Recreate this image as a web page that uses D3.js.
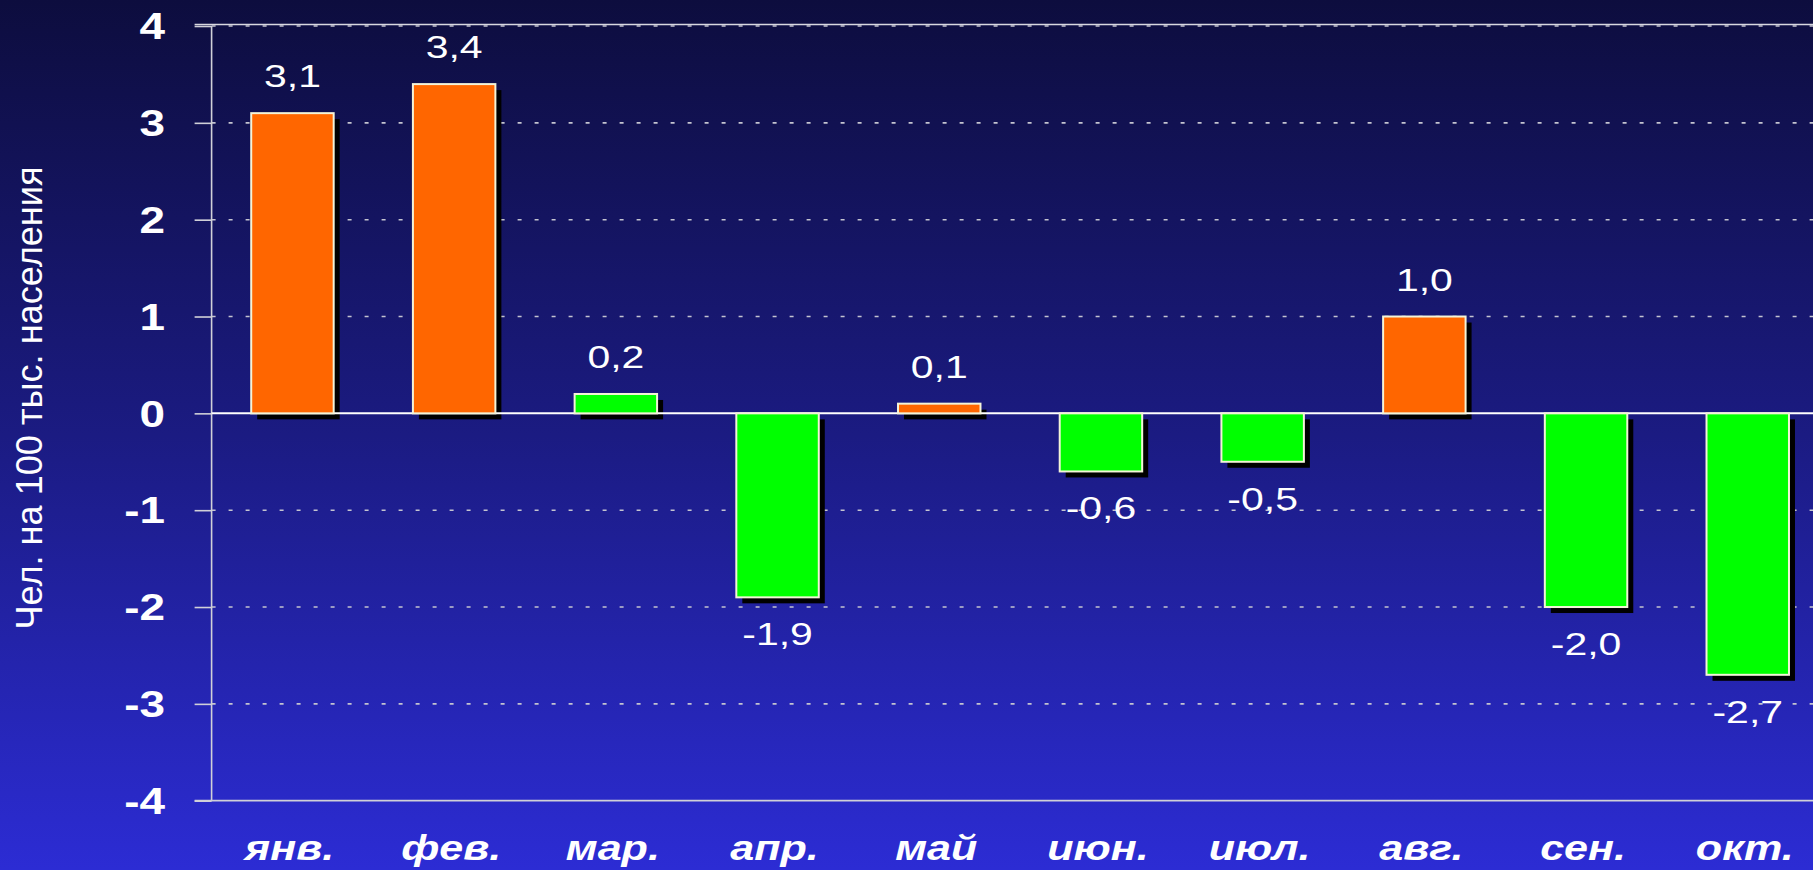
<!DOCTYPE html>
<html>
<head>
<meta charset="utf-8">
<script src="https://cdn.jsdelivr.net/npm/d3@7"></script>
<style>
  html, body { margin: 0; padding: 0; overflow: hidden; }
  svg { display: block; }
</style>
</head>
<body>
<svg id="chart" width="1813" height="870"></svg>
<script>
// ---- data ----
const months = ["янв.", "фев.", "мар.", "апр.", "май", "июн.", "июл.", "авг.", "сен.", "окт."];
const values = [3.1, 3.4, 0.2, -1.9, 0.1, -0.6, -0.5, 1.0, -2.0, -2.7];
const valueLabels = ["3,1", "3,4", "0,2", "-1,9", "0,1", "-0,6", "-0,5", "1,0", "-2,0", "-2,7"];
const barKinds = ["o", "o", "g", "g", "o", "g", "g", "o", "g", "g"];
const yTicks = [4, 3, 2, 1, 0, -1, -2, -3, -4];
const yTitle = "Чел. на 100 тыс. населения";

// ---- layout ----
const W = 1813, H = 870;
const axisX = 211.6, plotRight = 1828.6;
const yTop = 26, yBottom = 800.7;
const stretch = 1.28;
const palette = { o: "#ff6600", g: "#00ff00" };

const svg = d3.select("#chart");
const defs = svg.append("defs");
const grad = defs.append("linearGradient").attr("id", "bg").attr("x1", 0).attr("y1", 0).attr("x2", 0).attr("y2", 1);
grad.append("stop").attr("offset", "0%").attr("stop-color", "#0d0d3e");
grad.append("stop").attr("offset", "50%").attr("stop-color", "#1b1b82");
grad.append("stop").attr("offset", "100%").attr("stop-color", "#2c2cd4");
svg.append("rect").attr("width", W).attr("height", H).attr("fill", "url(#bg)");

const x = d3.scaleBand().domain(months).range([axisX, plotRight]).paddingInner(0.49).paddingOuter(0.245);
const y = d3.scaleLinear().domain([-4, 4]).range([yBottom, yTop]);

// gridlines (dashed)
svg.append("g").selectAll("line").data(yTicks.filter(t => t !== 0 && t !== -4)).join("line")
  .attr("x1", axisX).attr("x2", W).attr("y1", d => y(d)).attr("y2", d => y(d))
  .attr("stroke", "#c4c4d0").attr("stroke-width", 1.6).attr("stroke-dasharray", "4,13");
// solid top border
svg.append("line").attr("x1", axisX - 17).attr("x2", W).attr("y1", y(4) - 1.5).attr("y2", y(4) - 1.5)
  .attr("stroke", "#d8d8e0").attr("stroke-width", 1.5);

// axis
const yAxis = d3.axisLeft(y).tickValues(yTicks).tickSize(17).tickFormat("");
const ga = svg.append("g").attr("transform", `translate(${axisX},0)`).call(yAxis);
ga.selectAll("path, line").attr("stroke", "#d0d0d8").attr("stroke-width", 1.6);
ga.select("path").attr("d", `M0,${yTop}V${yBottom}`);

// bottom axis line
svg.append("line").attr("x1", axisX - 17).attr("x2", W).attr("y1", yBottom).attr("y2", yBottom)
  .attr("stroke", "#d0d0d8").attr("stroke-width", 1.8);

// tick labels
svg.append("g").selectAll("text").data(yTicks).join("text")
  .attr("transform", d => `translate(165,${y(d) + 13.3}) scale(1.24,1)`)
  .attr("text-anchor", "end")
  .attr("font-family", "Liberation Sans, Arial, sans-serif").attr("font-weight", "bold")
  .attr("font-size", 37).attr("fill", "#ffffff")
  .text(d => d);

// bars: shadows
const data = months.map((m, i) => ({ m, v: values[i], lab: valueLabels[i], k: barKinds[i] }));
svg.append("g").selectAll("rect").data(data).join("rect")
  .attr("x", d => x(d.m) + 6).attr("y", d => Math.min(y(d.v), y(0)) + 6)
  .attr("width", x.bandwidth()).attr("height", d => Math.abs(y(d.v) - y(0)))
  .attr("fill", "#000000");
// zero line
svg.append("line").attr("x1", axisX).attr("x2", W).attr("y1", y(0)).attr("y2", y(0))
  .attr("stroke", "#ffffff").attr("stroke-width", 2);
// bars
svg.append("g").selectAll("rect").data(data).join("rect")
  .attr("x", d => x(d.m)).attr("y", d => Math.min(y(d.v), y(0)))
  .attr("width", x.bandwidth()).attr("height", d => Math.abs(y(d.v) - y(0)))
  .attr("fill", d => palette[d.k])
  .attr("stroke", "#f4f4d8").attr("stroke-width", 2);

// value labels
svg.append("g").selectAll("text").data(data).join("text")
  .attr("transform", d => `translate(${x(d.m) + x.bandwidth() / 2},${d.v >= 0 ? y(d.v) - 26 : y(d.v) + 48}) scale(${stretch},1)`)
  .attr("text-anchor", "middle")
  .attr("font-family", "Liberation Sans, Arial, sans-serif")
  .attr("font-size", 32).attr("fill", "#ffffff")
  .text(d => d.lab);

// month labels
svg.append("g").selectAll("text").data(months).join("text")
  .attr("transform", d => `translate(${x(d) + x.bandwidth() / 2 - 3},860) scale(1.23,1)`)
  .attr("text-anchor", "middle")
  .attr("font-family", "Liberation Sans, Arial, sans-serif")
  .attr("font-weight", "bold").attr("font-style", "italic")
  .attr("font-size", 35).attr("fill", "#ffffff")
  .text(d => d);

// y title
svg.append("text")
  .attr("transform", "translate(42,398) rotate(-90)")
  .attr("text-anchor", "middle")
  .attr("font-family", "Liberation Sans, Arial, sans-serif")
  .attr("font-size", 37).attr("fill", "#ffffff")
  .attr("textLength", 463).attr("lengthAdjust", "spacingAndGlyphs")
  .text(yTitle);
</script>
</body>
</html>
